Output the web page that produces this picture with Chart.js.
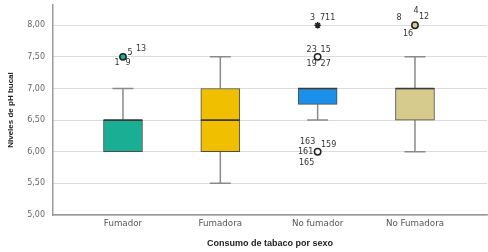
<!DOCTYPE html>
<html><head><meta charset="utf-8">
<script src="https://cdn.jsdelivr.net/npm/chart.js@4.4.0/dist/chart.umd.min.js"></script>
<style>html,body{margin:0;padding:0;background:#fff}#wrap{width:488px;height:252px}</style>
</head><body><div id="wrap"><canvas id="c"></canvas></div>
<script>
const categories=['Fumador','Fumadora','No fumador','No Fumadora'];
const q1=[6.0,6.0,6.75,6.5];
const q3=[6.5,7.0,7.0,7.0];
const medians=[6.5,6.5,7.0,7.0];
const whiskLo=[6.0,5.5,6.5,6.0];
const whiskHi=[7.0,7.5,7.0,7.5];
const outCat=[0,2,2,2,3];
const outVal=[7.5,8.0,7.5,6.0,8.0];
const outCases=[['5','13','1','9'],['3','711'],['23','15','19','27'],['163','161','159','165'],['8','4','12','16']];
const yTicks=[5.0,5.5,6.0,6.5,7.0,7.5,8.0];

// styling
const boxColors=['#1aaf94','#f0c000','#1b8fea','#d6cb8c'];
const outStyle=['circle','star','circle','circle','circle'];
const outFill=['#1aaf94','#000','#fff','#fff','#d6cb8c'];
const caseOff=[[[7,-4],[18,-8],[-6,6],[5,6]],[[-5,-7],[10,-7]],[[-6,-7],[8,-7],[-6,7],[8,7]],[[-10,-10],[-12,0],[11,-7],[-11,11]],[[-16,-7],[1,-14],[9,-8],[-7,9]]];

const boxPlugin={id:'box',
  beforeDatasetsDraw(chart){
    const {ctx,scales:{x,y}}=chart;
    ctx.save();ctx.strokeStyle='#8a8a8a';ctx.lineWidth=1.5;
    categories.forEach((c,i)=>{
      const cx=x.getPixelForValue(i);
      [[q3[i],whiskHi[i]],[q1[i],whiskLo[i]]].forEach(([a,b])=>{
        if(a===b) return;
        ctx.beginPath();
        ctx.moveTo(cx,y.getPixelForValue(a));ctx.lineTo(cx,y.getPixelForValue(b));
        ctx.moveTo(cx-10.5,y.getPixelForValue(b));ctx.lineTo(cx+10.5,y.getPixelForValue(b));
        ctx.stroke();
      });
    });
    ctx.restore();
  },
  afterDatasetsDraw(chart){
    const {ctx,scales:{x,y}}=chart;
    ctx.save();ctx.strokeStyle='#3a3a3a';ctx.lineWidth=1.6;
    categories.forEach((c,i)=>{
      const cx=x.getPixelForValue(i),py=y.getPixelForValue(medians[i]);
      ctx.beginPath();ctx.moveTo(cx-19.5,py);ctx.lineTo(cx+19.5,py);ctx.stroke();
    });
    ctx.fillStyle='#333';ctx.font='8px "DejaVu Sans"';ctx.textAlign='center';ctx.textBaseline='middle';
    outCases.forEach((cases,k)=>{
      const px=x.getPixelForValue(outCat[k]),py=y.getPixelForValue(outVal[k]);
      cases.forEach((t,j)=>ctx.fillText(t,px+caseOff[k][j][0],py+caseOff[k][j][1]));
    });
    ctx.restore();
  }
};

new Chart(document.getElementById('c'),{
  type:'bar',
  data:{datasets:[
    {type:'scatter',data:outCat.map((c,k)=>({x:c,y:outVal[k]})),pointStyle:outStyle,
     backgroundColor:outFill,borderColor:'#222',borderWidth:1.5,pointRadius:3.2,order:0},
    {data:categories.map((c,i)=>({x:i,y:[q1[i],q3[i]]})),backgroundColor:boxColors,
     borderColor:'#4d4d4d',borderWidth:1,borderSkipped:false,barThickness:39,order:1}
  ]},
  options:{responsive:true,maintainAspectRatio:false,animation:false,
    layout:{autoPadding:false,padding:{top:5,right:1,left:0,bottom:0}},
    plugins:{legend:{display:false},tooltip:{enabled:false}},
    scales:{
      x:{type:'linear',offset:false,min:-0.719,max:3.74,
        afterBuildTicks:s=>{s.ticks=categories.map((c,i)=>({value:i}));},
        afterFit:s=>{s.height=37;s.paddingLeft=0;s.paddingRight=0;},
        ticks:{callback:v=>categories[v],font:{family:'DejaVu Sans',size:8.7},color:'#555',padding:4,autoSkip:false,maxRotation:0},
        grid:{display:false,drawTicks:false},border:{color:'#9a9a9a',width:1.5},
        title:{display:true,text:'Consumo de tabaco por sexo',font:{family:'Liberation Sans',size:9,weight:'bold'},color:'#222',padding:{top:0,bottom:3}}},
      y:{min:5,max:8.32,
        afterBuildTicks:s=>{s.ticks=yTicks.map(v=>({value:v}));},
        afterFit:s=>{s.width=53;s.paddingTop=0;s.paddingBottom=0;},
        ticks:{callback:v=>v.toFixed(2).replace('.',','),font:{family:'DejaVu Sans',size:8},color:'#666',padding:8},
        grid:{color:'#dcdcdc',drawTicks:false},border:{color:'#9a9a9a',width:1.5},
        title:{display:true,text:'Niveles de pH bucal',font:{family:'Liberation Sans',size:8,weight:'bold'},color:'#222',padding:{top:6,bottom:4}}}
    }
  },
  plugins:[boxPlugin]
});
</script></body></html>
